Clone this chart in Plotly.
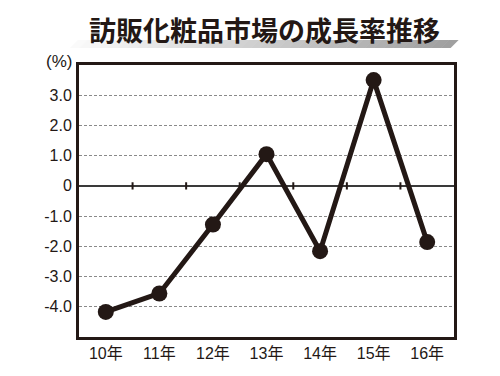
import plotly.graph_objects as go

categories = ["10年", "11年", "12年", "13年", "14年", "15年", "16年"]
growth = [-4.17, -3.56, -1.28, 1.05, -2.16, 3.5, -1.86]
ytick_vals = [-4, -3, -2, -1, 0, 1, 2, 3]
ytick_text = ["-4.0", "-3.0", "-2.0", "-1.0", "0", "1.0", "2.0", "3.0"]
title_text = "訪販化粧品市場の成長率推移"
unit_text = "(%)"

# page body has an 8px margin; work in page pixels and convert
OFF = 8
W, H = 484, 360
PL, PR, PT, PB = 79, 454, 65, 337  # plot box in page pixels
L, T = PL - OFF, PT - OFF
R = W - (PR - OFF)
B = H - (PB - OFF)
PW, PH = PR - PL, PB - PT

def xp(px):
    return (px - PL) / PW

def yp(py):
    return (PB - py) / PH

ink = "#231815"
num_font = "Liberation Sans, Arial, Noto Sans CJK JP, sans-serif"

fig = go.Figure()
fig.add_trace(go.Scatter(
    x=list(range(len(categories))), y=growth, mode="lines+markers",
    line=dict(color=ink, width=5),
    marker=dict(color=ink, size=16),
    hoverinfo="skip", showlegend=False,
))

shapes = []
# gradient title bar (parallelogram slices)
n = 40
x0b, x1b = 70, 450  # bottom edge
slant = 8
ytop, ybot = 40, 48
for i in range(n):
    a = x0b + (x1b - x0b) * i / n
    b = x0b + (x1b - x0b) * (i + 1) / n + 0.6
    t = i / (n - 1)
    g = int(250 - (250 - 160) * t)
    col = f"rgb({g},{g},{g})"
    path = (f"M {xp(a)},{yp(ybot)} L {xp(a + slant)},{yp(ytop)} "
            f"L {xp(b + slant)},{yp(ytop)} L {xp(b)},{yp(ybot)} Z")
    shapes.append(dict(type="path", xref="paper", yref="paper", path=path,
                       fillcolor=col, line=dict(width=0), layer="below"))

# small ticks on zero line at category boundaries
for k in range(len(categories) - 1):
    shapes.append(dict(type="line", xref="x", yref="y",
                       x0=k + 0.5, x1=k + 0.5, y0=-0.12, y1=0.12,
                       line=dict(color=ink, width=2)))

fig.update_layout(
    width=W, height=H, margin=dict(l=L, r=R, t=T, b=B, pad=0, autoexpand=False),
    paper_bgcolor="white", plot_bgcolor="white",
    shapes=shapes,
    xaxis=dict(range=[-0.5, len(categories) - 0.5],
               tickvals=list(range(len(categories))), ticktext=categories,
               showgrid=False, zeroline=False, automargin=False,
               showline=True, mirror=True, linecolor=ink, linewidth=3,
               ticks="", tickfont=dict(family=num_font, size=16, color=ink)),
    yaxis=dict(range=[-5, 4], tickvals=ytick_vals, ticktext=ytick_text,
               showgrid=True, gridcolor="#8a8a8a", gridwidth=1, griddash="3px,2px",
               zeroline=True, zerolinecolor="#3a3a3a", zerolinewidth=1.5,
               showline=True, mirror=True, linecolor=ink, linewidth=3, automargin=False,
               ticks="outside", ticklen=1, tickcolor="rgba(0,0,0,0)",
               tickfont=dict(family=num_font, size=16, color=ink)),
    annotations=[
        dict(text=title_text, xref="paper", yref="paper", x=xp(264), y=yp(29),
             xanchor="center", yanchor="middle", showarrow=False,
             font=dict(family="Noto Sans CJK JP", size=27, color=ink, weight="bold")),
        dict(text=unit_text, xref="paper", yref="paper", x=xp(74), y=yp(61),
             xanchor="right", yanchor="middle", showarrow=False,
             font=dict(family=num_font, size=17, color=ink)),
    ],
)

fig.write_html("out.html")
